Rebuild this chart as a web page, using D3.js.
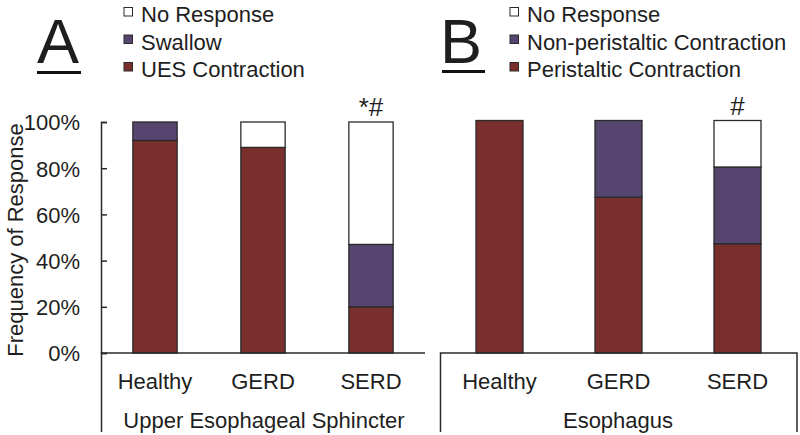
<!DOCTYPE html>
<html>
<head>
<meta charset="utf-8">
<script src="https://cdn.jsdelivr.net/npm/d3@7"></script>
<style>
  body { margin: 0; background: #fff; }
  svg text { font-family: "Liberation Sans", Arial, sans-serif; fill: #1e1e1e; }
</style>
</head>
<body>
<svg id="chart" width="800" height="435"></svg>
<script>
var categories = ["Healthy", "GERD", "SERD"];

// panel A: upper esophageal sphincter (percent)
var uesContraction = [92, 89, 20];
var swallow = [8, 0, 27];
var noResponseA = [0, 11, 53];

// panel B: esophagus (percent)
var peristaltic = [100, 67, 47];
var nonPeristaltic = [0, 33, 33];
var noResponseB = [0, 0, 20];

var yTicks = [0, 20, 40, 60, 80, 100];
var legendA = ["No Response", "Swallow", "UES Contraction"];
var legendB = ["No Response", "Non-peristaltic Contraction", "Peristaltic Contraction"];
var sigA = ["", "", "*#"];
var sigB = ["", "", "#"];

var colors = ["#ffffff", "#56466f", "#792f2c"];
var lineColor = "#2a2a2a";
var fs = "22px";

var svg = d3.select("#chart");

var yA = d3.scaleLinear().domain([0, 100]).range([353, 122]);
var yB = d3.scaleLinear().domain([0, 100]).range([353, 120.5]);

var xA = d3.scaleBand().domain(categories).range([101, 425])
  .paddingInner(0.59).paddingOuter(0.295);
var xB = d3.scaleBand().domain(categories).range([440, 797])
  .paddingInner(0.605).paddingOuter(0.3025);

function stackRows(bottom, middle, top) {
  return categories.map(function(c, i) {
    return {cat: c, top: top[i], middle: middle[i], bottom: bottom[i]};
  });
}

function drawBars(rows, x, y) {
  var stack = d3.stack().keys(["bottom", "middle", "top"]);
  var series = stack(rows);
  var g = svg.append("g");
  series.forEach(function(s, si) {
    g.selectAll(null)
      .data(s.filter(function(d) { return d[1] - d[0] > 0; }))
      .enter().append("rect")
      .attr("x", function(d) { return x(d.data.cat); })
      .attr("width", x.bandwidth())
      .attr("y", function(d) { return y(d[1]); })
      .attr("height", function(d) { return y(d[0]) - y(d[1]); })
      .attr("fill", colors[2 - si])
      .attr("stroke", lineColor)
      .attr("stroke-width", 1.3);
  });
}

drawBars(stackRows(uesContraction, swallow, noResponseA), xA, yA);
drawBars(stackRows(peristaltic, nonPeristaltic, noResponseB), xB, yB);

// y axis (panel A only), ticks pointing inward
var yAxis = d3.axisLeft(yA)
  .tickValues(yTicks)
  .tickFormat(function(d) { return d + "%"; })
  .tickSizeInner(-6)
  .tickSizeOuter(-6)
  .tickPadding(21);

var ax = svg.append("g")
  .attr("transform", "translate(101,0)")
  .call(yAxis);
ax.select(".domain").attr("stroke", lineColor).attr("stroke-width", 1.5);
ax.selectAll(".tick line").attr("stroke", lineColor).attr("stroke-width", 1.5);
ax.selectAll(".tick text")
  .style("font-size", fs)
  .attr("fill", "#1e1e1e")
  .attr("dy", "0.36em");

// baselines and category brackets
svg.append("path")
  .attr("d", "M101.5,432V" + yA(0) + "H425")
  .attr("fill", "none").attr("stroke", lineColor).attr("stroke-width", 1.5);
svg.append("path")
  .attr("d", "M440.5,432V" + yB(0) + "H797V432")
  .attr("fill", "none").attr("stroke", lineColor).attr("stroke-width", 1.5);

// category labels
function catLabels(x, name, center) {
  svg.append("g").selectAll("text")
    .data(categories)
    .enter().append("text")
    .attr("x", function(d) { return x(d) + x.bandwidth() / 2; })
    .attr("y", 389)
    .attr("text-anchor", "middle")
    .style("font-size", fs)
    .text(function(d) { return d; });
  svg.append("text")
    .attr("x", center)
    .attr("y", 428)
    .attr("text-anchor", "middle")
    .style("font-size", fs)
    .text(name);
}
catLabels(xA, "Upper Esophageal Sphincter", 264);
catLabels(xB, "Esophagus", 618);

// significance marks
function sigMarks(x, y, marks, base) {
  svg.append("g").selectAll("text")
    .data(categories)
    .enter().append("text")
    .attr("x", function(d) { return x(d) + x.bandwidth() / 2; })
    .attr("y", base)
    .attr("text-anchor", "middle")
    .style("font-size", "26px")
    .text(function(d, i) { return marks[i]; });
}
sigMarks(xA, yA, sigA, 116);
sigMarks(xB, yB, sigB, 115);

// y axis title
svg.append("text")
  .attr("transform", "translate(23,240) rotate(-90)")
  .attr("text-anchor", "middle")
  .style("font-size", fs)
  .text("Frequency of Response");

// panel letters
svg.append("text").attr("x", 37).attr("y", 63)
  .style("font-size", "63px").text("A").attr("fill", "#000");
svg.append("rect").attr("x", 37).attr("y", 71).attr("width", 44).attr("height", 3).attr("fill", "#111");
svg.append("text").attr("x", 440).attr("y", 63)
  .style("font-size", "63px").text("B").attr("fill", "#000");
svg.append("rect").attr("x", 442).attr("y", 70).attr("width", 43).attr("height", 3).attr("fill", "#111");

// legends
function legend(labels, x0) {
  var g = svg.append("g").attr("transform", "translate(" + x0 + ",0)");
  var row = g.selectAll("g")
    .data(labels)
    .enter().append("g")
    .attr("transform", function(d, i) { return "translate(0," + (i * 27.5) + ")"; });
  row.append("rect")
    .attr("x", 0).attr("y", 7.5)
    .attr("width", 8.5).attr("height", 8.5)
    .attr("fill", function(d, i) { return colors[i]; })
    .attr("stroke", lineColor).attr("stroke-width", 1);
  row.append("text")
    .attr("x", 17).attr("y", 22)
    .style("font-size", fs)
    .text(function(d) { return d; });
}
legend(legendA, 124);
legend(legendB, 510);
</script>
</body>
</html>
